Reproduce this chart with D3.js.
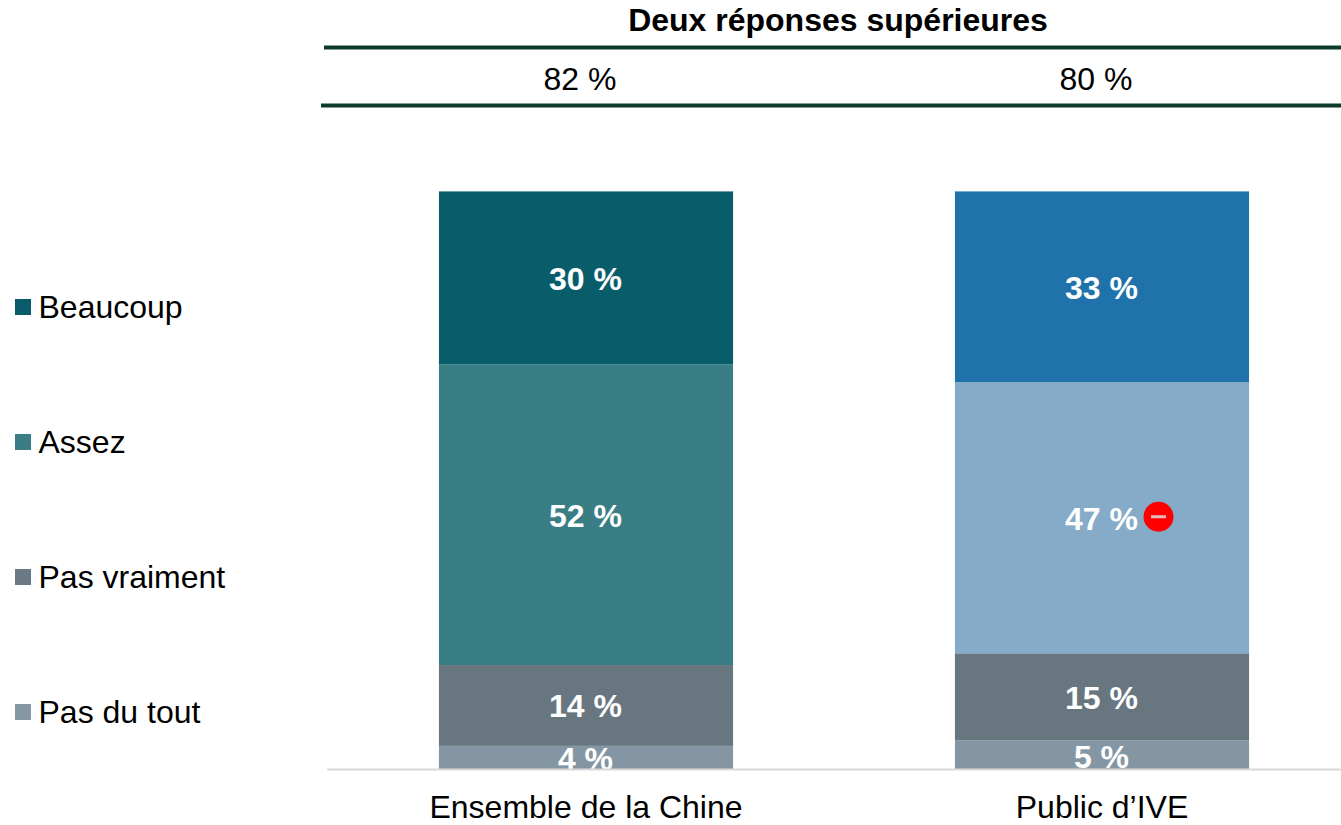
<!DOCTYPE html>
<html><head><meta charset="utf-8">
<script src="https://cdn.jsdelivr.net/npm/d3@7"></script>
<style>html,body{margin:0;padding:0;background:#fff}svg{display:block}text{font-family:"Liberation Sans",Arial,sans-serif}</style>
</head><body><svg id="c" width="1341" height="825"></svg>
<script>
const categories = ["Ensemble de la Chine", "Public d’IVE"];
const seriesNames = ["Beaucoup", "Assez", "Pas vraiment", "Pas du tout"];
const beaucoup = [30, 33];
const assez = [52, 47];
const pasVraiment = [14, 15];
const pasDuTout = [4, 5];
const topTwoTitle = "Deux réponses supérieures";
const topTwo = ["82 %", "80 %"];
const legendColors = ["#095d6b", "#3a7d85", "#6b7984", "#8497a5"];
const barColors = [
  ["#095d6b", "#397d85", "#68767f", "#8496a3"],
  ["#2073aa", "#85abc8", "#68767f", "#8496a3"]
];
const significance = [null, {series: 1, sign: "-"}];

const W = 1341, H = 825, fs = 32;
const svg = d3.select("#c");
const x = d3.scaleBand().domain(categories).range([328, 1360]).paddingInner(0.43).paddingOuter(0.215);
const y = d3.scaleLinear().domain([0, 100]).range([769, 191.4]);
const rows = [beaucoup, assez, pasVraiment, pasDuTout];

svg.append("defs").append("clipPath").attr("id", "plot")
  .append("rect").attr("x", 0).attr("y", 0).attr("width", W).attr("height", 769);

// header
svg.append("text").attr("x", 838).attr("y", 31).attr("text-anchor", "middle")
  .attr("font-size", fs).attr("font-weight", "bold").attr("fill", "#000").text(topTwoTitle);
svg.append("line").attr("x1", 324).attr("x2", W).attr("y1", 47.5).attr("y2", 47.5)
  .attr("stroke", "#0c3a2b").attr("stroke-width", 4);
svg.append("line").attr("x1", 321).attr("x2", W).attr("y1", 105.5).attr("y2", 105.5)
  .attr("stroke", "#0c3a2b").attr("stroke-width", 4);
svg.selectAll("text.top").data(topTwo).join("text").attr("class", "top")
  .attr("x", (d, i) => [580, 1096][i]).attr("y", 90).attr("text-anchor", "middle")
  .attr("font-size", fs).attr("fill", "#000").text(d => d);

// bars
categories.forEach((cat, ci) => {
  let cum = 100;
  const g = svg.append("g");
  const lab = svg.append("g").attr("clip-path", "url(#plot)");
  rows.forEach((row, si) => {
    const v = row[ci], top = cum, bot = cum - v;
    cum = bot;
    g.append("rect").attr("x", x(cat)).attr("width", x.bandwidth())
      .attr("y", y(top)).attr("height", y(bot) - y(top)).attr("fill", barColors[ci][si]);
    const extra = si === 3 ? 13 : 12;
    lab.append("text").attr("x", x(cat) + x.bandwidth() / 2 - 0.5)
      .attr("y", (y(top) + y(bot)) / 2 + extra).attr("text-anchor", "middle")
      .attr("font-size", fs).attr("font-weight", "bold").attr("fill", "#fff").text(v + " %");
    const s = significance[ci];
    if (s && s.series === si) {
      const cy = (y(top) + y(bot)) / 2 - 1, cx = x(cat) + x.bandwidth() / 2 + 56.5;
      svg.append("circle").attr("cx", cx).attr("cy", cy).attr("r", 15).attr("fill", "#ff0000");
      svg.append("rect").attr("x", cx - 7.5).attr("y", cy - 1.5).attr("width", 15).attr("height", 3)
        .attr("fill", "#e8b8bc");
    }
  });
  svg.append("text").attr("x", x(cat) + x.bandwidth() / 2).attr("y", 818).attr("text-anchor", "middle")
    .attr("font-size", fs).attr("fill", "#000").text(cat);
});

// baseline
svg.append("line").attr("x1", 327).attr("x2", W).attr("y1", 769.5).attr("y2", 769.5)
  .attr("stroke", "#d9d9d9").attr("stroke-width", 2);

// legend
const ly = d3.scalePoint().domain(seriesNames).range([307, 712]);
seriesNames.forEach((n, i) => {
  svg.append("rect").attr("x", 15).attr("y", ly(n) - 8).attr("width", 16).attr("height", 16).attr("fill", legendColors[i]);
  svg.append("text").attr("x", 38.5).attr("y", ly(n) + 11).attr("font-size", fs).attr("fill", "#000").text(n);
});
</script></body></html>
